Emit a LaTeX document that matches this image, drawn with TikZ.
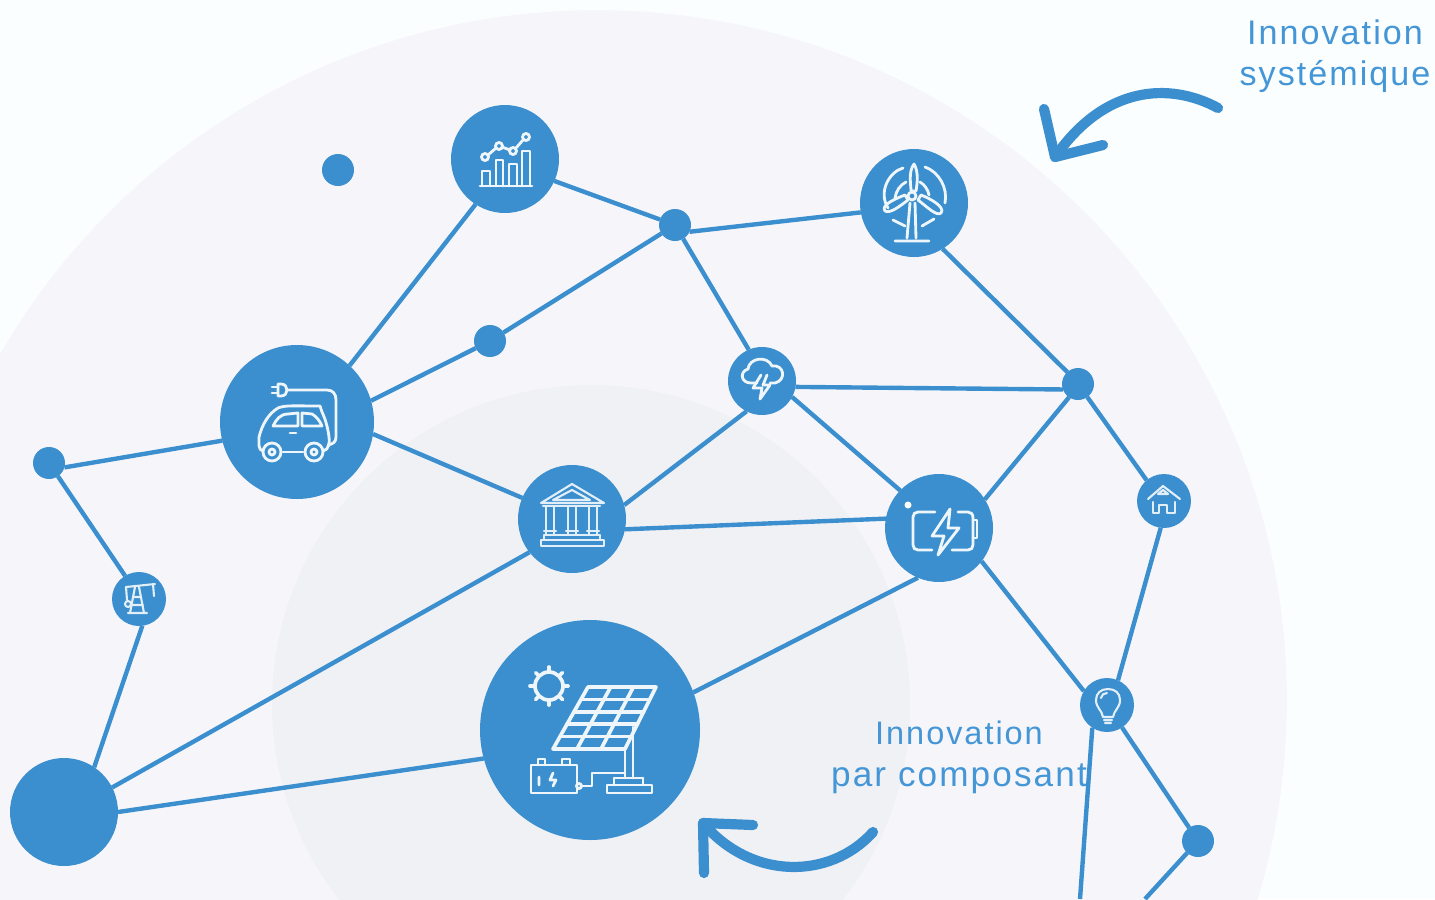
\documentclass[tikz,border=0pt]{standalone}
\usepackage{fontspec}
\setmainfont{Liberation Sans}
\newfontfamily\labelfont[LetterSpace=6]{Liberation Sans}
\definecolor{nodeblue}{HTML}{3B8FCE}
\definecolor{labelblue}{HTML}{4496D6}
\definecolor{pagebg}{HTML}{FBFEFE}
\definecolor{outerbg}{HTML}{F6F6FA}
\definecolor{innerbg}{HTML}{F0F1F5}
\tikzset{
  hub/.style={circle,fill=nodeblue,inner sep=0pt,outer sep=0pt,minimum size=#1*0.02cm},
  link/.style={nodeblue,line width=2.5pt},
  swoosh/.style={nodeblue,line width=5.8pt,line cap=round,line join=round},
  icon/.style={white!92!nodeblue,line width=1.6pt,line cap=round,line join=round},
  thin icon/.style={white!85!nodeblue,line width=1.2pt,line cap=round,line join=round},
  caption/.style={text=labelblue,font=\labelfont#1\selectfont,align=center,inner sep=0pt}
}
\begin{document}
\begin{tikzpicture}[x=0.02cm,y=-0.02cm]
    \clip (0,0) rectangle (1435,899);
    \fill[pagebg] (0,0) rectangle (1435,899);
    \fill[outerbg] (597,700) circle (13.8cm);
    \fill[innerbg] (591,704) circle (6.38cm);
    % nodes
    \node[hub=108] (chart) at (505,159) {};
    \node[hub=108] (wind) at (914,203) {};
    \node[hub=154] (car) at (297,422) {};
    \node[hub=108] (bank) at (572,519) {};
    \node[hub=68] (storm) at (762,381) {};
    \node[hub=108] (batt) at (939,528) {};
    \node[hub=54] (house) at (1164,501) {};
    \node[hub=54] (oil) at (139,599) {};
    \node[hub=54] (bulb) at (1107,705) {};
    \node[hub=220] (solar) at (590,730) {};
    \node[hub=108] (plant) at (64,812) {};
    \node[hub=32] (lone) at (338,170) {};
    \node[hub=32] (dotA) at (675,225) {};
    \node[hub=32] (dotB) at (490,341) {};
    \node[hub=32] (dotC) at (1078,384) {};
    \node[hub=32] (dotD) at (49,463) {};
    \node[hub=32] (dotE) at (1198,841) {};
    \coordinate (endA) at (1080,899);
    \coordinate (endB) at (1145,899);
    % links
    \draw[link] (chart.336) -- (dotA);
    \draw[link] (dotA.335) -- (wind.190);
    \draw[link] (dotA) -- (storm.113);
    \draw[link] (dotA) -- (dotB);
    \draw[link] (dotB) -- (car.16);
    \draw[link] (car.47) -- (chart.237);
    \draw[link] (car.194) -- (dotD.344);
    \draw[link] (car.351) -- (bank.157);
    \draw[link] (dotD) -- (oil.121);
    \draw[link] (oil.277) -- (plant.56);
    \draw[link] (plant.27) -- (bank.218);
    \draw[link] (plant.0) -- (solar.195);
    \draw[link] (solar.20) -- (batt.247);
    \draw[link] (bank.349) -- (batt.170);
    \draw[link] (bank.15) -- (storm.243);
    \draw[link] (storm.350) -- (dotC.200);
    \draw[link] (storm.332) -- (batt.136);
    \draw[link] (batt.32) -- (dotC.236);
    \draw[link] (wind.302) -- (dotC.132);
    \draw[link] (dotC) -- (house.130);
    \draw[link] (house.263) -- (bulb.66);
    \draw[link] (batt.322) -- (bulb.149);
    \draw[link] (bulb) -- (dotE);
    \draw[link] (dotE) -- (endB);
    \draw[link] (bulb.237) -- (endA);
    % chart icon
    \draw[icon] (480,186) -- (532,186);
    \draw[icon] (482,186) |- (490,171) -- (490,186);
    \draw[icon] (496,186) |- (503,160) -- (503,186);
    \draw[icon] (509,186) |- (517,164) -- (517,186);
    \draw[icon] (522,186) |- (530,151) -- (530,186);
    \draw[icon] (488,155) -- (496,148) (502,147) -- (510,150) (516,148) -- (523,140);
    \foreach \x/\y in {485/157,499/146,513/151,526/137}
        \draw[icon] (\x,\y) circle (0.07cm);
    % wind icon
    \draw[icon] (914,164) .. controls (908,172) and (911,185) .. (911,191) -- (916,191) .. controls (917,185) and (919,172) .. (914,164) -- cycle;
    \draw[icon] (885,211) .. controls (890,214) and (900,206) .. (908,200) -- (905,195) .. controls (897,198) and (880,205) .. (885,211) -- cycle;
    \draw[icon] (941,213) .. controls (937,217) and (926,206) .. (918,200) -- (921,195) .. controls (929,198) and (946,207) .. (941,213) -- cycle;
    \draw[icon] (912,196) circle (0.08cm);
    \draw[icon] (907,238) -- (910,203) (916,238) -- (915,203) (895,241) -- (929,241);
    \draw[icon] (903,168) .. controls (889,172) and (878,192) .. (888,208);
    \draw[icon] (925,167) .. controls (939,172) and (948,188) .. (945,203);
    \draw[icon] (906,182) .. controls (900,185) and (896,191) .. (895,198);
    \draw[icon] (920,182) .. controls (925,185) and (928,190) .. (929,195);
    \draw[icon] (893,220) -- (905,226) (922,226) -- (934,219);
    % car icon
    \draw[icon] (278,384) -- (278,396) -- (281,396) .. controls (285,396) and (287,393) .. (287,390) .. controls (287,387) and (285,384) .. (281,384) -- cycle;
    \draw[icon] (272,387) -- (278,387) (272,393) -- (278,393);
    \draw[icon] (287,390) -- (327,390) .. controls (333,390) and (336,394) .. (336,400) -- (336,437) .. controls (336,442) and (333,444) .. (328,445);
    \draw[icon] (263,451) .. controls (258,450) and (259,444) .. (259,437) .. controls (262,425) and (268,414) .. (278,408) .. controls (285,405) and (295,406) .. (320,406) -- (322,412) .. controls (325,418) and (328,428) .. (329,437) .. controls (330,442) and (329,450) .. (323,451);
    \draw[icon] (273,426) .. controls (276,420) and (280,414) .. (288,414) -- (298,413) -- (298,426) -- cycle;
    \draw[icon] (302,413) -- (312,414) .. controls (316,416) and (320,421) .. (322,426) -- (302,426) -- cycle;
    \draw[icon] (283,452) -- (303,452) (290,433) -- (296,433);
    \foreach \x in {272,314}{
        \draw[icon] (\x,452) circle (0.18cm);
        \draw[icon] (\x,452) circle (0.06cm);
    }
    % bank icon
    \draw[thin icon] (572,484) -- (541,503) -- (604,503) -- cycle;
    \draw[thin icon] (572,490) -- (553,500) -- (590,500) -- cycle;
    \draw[thin icon] (543,506) -- (600,506) (541,546) rectangle (604,540) (544,535) -- (600,535) (544,535) -- (544,540) (600,535) -- (600,540);
    \foreach \x in {545,567,588}
        \draw[thin icon] (\x+1,506) -- (\x+1,534) (\x+9,506) -- (\x+9,534) (\x-1,531) -- (\x+11,531);
    % storm icon
    \draw[icon] (757,383) -- (751,383) .. controls (741,383) and (739,372) .. (748,369) .. controls (749,358) and (767,355) .. (772,366) .. controls (784,364) and (787,380) .. (775,383) -- (770,383);
    \draw[icon] (761,375) -- (753,388) -- (762,388) -- (760,399) -- (770,385) -- (763,385) -- (767,375);
    % battery icon
    \draw[icon] (935,512) -- (918,512) .. controls (915,512) and (913,514) .. (913,517) -- (913,545) .. controls (913,548) and (915,550) .. (918,550) -- (932,550);
    \draw[icon] (958,512) -- (968,512) .. controls (971,512) and (973,514) .. (973,518) -- (973,545) .. controls (973,548) and (971,550) .. (968,550) -- (952,550);
    \draw[icon] (973,520) -- (977,520) -- (977,538) -- (973,538);
    \draw[icon] (950,509) -- (932,536) -- (944,536) -- (938,555) -- (959,528) -- (948,528) -- cycle;
    \fill[white] (908,505) circle (0.07cm);
    % house icon
    \draw[thin icon] (1148,499) -- (1163,486) -- (1180,499) (1158,494) -- (1163,490) -- (1168,494) -- cycle;
    \draw[thin icon] (1153,502) -- (1153,513) -- (1159,513) -- (1159,505) -- (1167,505) -- (1167,513) -- (1175,513) -- (1175,502);
    % oil icon
    \draw[thin icon] (126,587) -- (155,584) (153,584) -- (154,596) (128,613) -- (147,613);
    \draw[thin icon] (135,587) -- (130,613) (139,587) -- (144,613) (133,597) -- (141,597) (131,605) -- (143,605) (126,587) -- (127,600);
    \draw[thin icon] (128,604) circle (0.06cm);
    % bulb icon
    \draw[thin icon] (1103,717) .. controls (1102,710) and (1096,708) .. (1096,700) .. controls (1096,693) and (1101,689) .. (1108,689) .. controls (1115,689) and (1120,693) .. (1120,700) .. controls (1120,708) and (1114,710) .. (1113,717) -- cycle;
    \draw[thin icon] (1104,720) -- (1112,720) (1105,723) -- (1111,723) (1101,698) .. controls (1101,695) and (1104,693) .. (1107,693);
    % solar icon
    \draw[icon,line width=2.1pt] (588,687) -- (656,687) -- (625,749) -- (553,749) -- cycle;
    \foreach \t in {0.2,0.4,0.6,0.8}
        \draw[icon,line width=2.1pt] ({588-35*\t},{687+62*\t}) -- ({656-31*\t},{687+62*\t});
    \foreach \t in {0.333,0.667}
        \draw[icon,line width=2.1pt] ({588+68*\t},687) -- ({553+72*\t},749);
    \draw[icon] (633,727) -- (633,778) (625,749) -- (625,778) (614,778) -- (643,778) (614,778) -- (614,785) (643,778) -- (643,785);
    \draw[icon] (607,785) rectangle (652,793);
    \draw[icon] (582,786) -- (592,786) -- (592,773) -- (625,773);
    \draw[icon] (579,786) circle (0.05cm);
    \draw[icon] (531,765) rectangle (577,793);
    \draw[icon] (538,765) |- (545,759) -- (545,765) (562,765) |- (570,759) -- (570,765);
    \draw[icon] (539,777) -- (539,785) (553,773) -- (550,780) -- (556,780) -- (553,786);
    \draw[icon,line width=2.1pt] (549,686) circle (0.28cm);
    \foreach \a in {0,45,...,315}
        \draw[icon,line width=2.1pt] ({549+15*cos(\a)},{686+15*sin(\a)}) -- ({549+19*cos(\a)},{686+19*sin(\a)});
    % arrows
    \coordinate (swooshA) at (1218,108);
    \coordinate (tipA) at (1055,157);
    \coordinate (swooshB) at (873,832);
    \coordinate (tipB) at (703,823);
    \draw[swoosh] (swooshA) .. controls (1170,82) and (1105,85) .. (tipA);
    \draw[swoosh] (1044,109) -- (tipA) -- (1103,145);
    \draw[swoosh] (swooshB) .. controls (830,880) and (751,880) .. (tipB);
    \draw[swoosh] (753,825) -- (tipB) -- (704,873);
    % captions
    \node[caption={\fontsize{19.4}{23.2}}] (systeme) at (1335,56) {Innovation\\systémique};
    \node[caption={\fontsize{20}{23.8}}] (composant) at (959,757) {{\fontsize{18.5}{23.8}\selectfont Innovation}\\par composant};
\end{tikzpicture}
\end{document}
